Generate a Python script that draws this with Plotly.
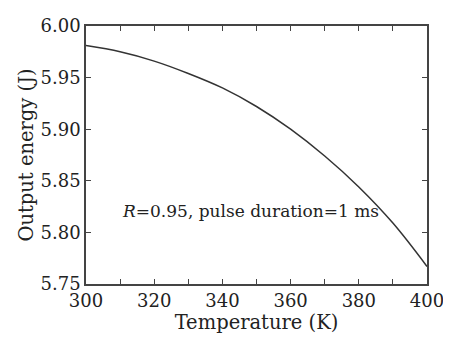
import plotly.graph_objects as go

temperature = [300, 310, 320, 330, 340, 350, 360, 370, 380, 390, 400]
output_energy = [5.981, 5.975, 5.966, 5.954, 5.940, 5.922, 5.900, 5.874, 5.844, 5.809, 5.767]

x_tickvals = [300, 310, 320, 330, 340, 350, 360, 370, 380, 390, 400]
x_ticktext = ["300", "", "320", "", "340", "", "360", "", "380", "", "400"]
y_tickvals = [5.75, 5.80, 5.85, 5.90, 5.95, 6.00]
y_ticktext = ["5.75", "5.80", "5.85", "5.90", "5.95", "6.00"]

FONT = "DejaVu Serif"
AX = "#444444"
TXT = "#222222"

fig = go.Figure()
fig.add_trace(go.Scatter(
    x=temperature, y=output_energy, mode="lines",
    line=dict(color="#333333", width=1.5, shape="spline"),
    showlegend=False,
))

axis_common = dict(
    showline=True, linecolor=AX, linewidth=1.5, mirror="ticks",
    ticks="inside", ticklen=5, tickwidth=1.2, tickcolor=AX,
    showgrid=False, zeroline=False, ticklabeloverflow="allow",
    tickfont=dict(family=FONT, size=18, color=TXT),
)

fig.update_xaxes(
    range=[300, 400], tickvals=x_tickvals, ticktext=x_ticktext,
    title=dict(text="Temperature (K)", font=dict(family=FONT, size=19.5, color=TXT), standoff=2),
    **axis_common,
)
fig.update_yaxes(
    range=[5.75, 6.00], tickvals=y_tickvals, ticktext=y_ticktext,
    title=dict(text="Output energy (J)", font=dict(family=FONT, size=19.5, color=TXT), standoff=2),
    **axis_common,
)

fig.add_annotation(
    x=348.2, y=5.8206, xref="x", yref="y", showarrow=False,
    text="<i>R</i>=0.95, pulse duration=1 ms",
    font=dict(family=FONT, size=17, color=TXT),
)

fig.update_layout(
    width=443, height=331,
    margin=dict(l=78, r=20, t=7, b=55),
    paper_bgcolor="white", plot_bgcolor="white",
)

fig.write_html("out.html")
